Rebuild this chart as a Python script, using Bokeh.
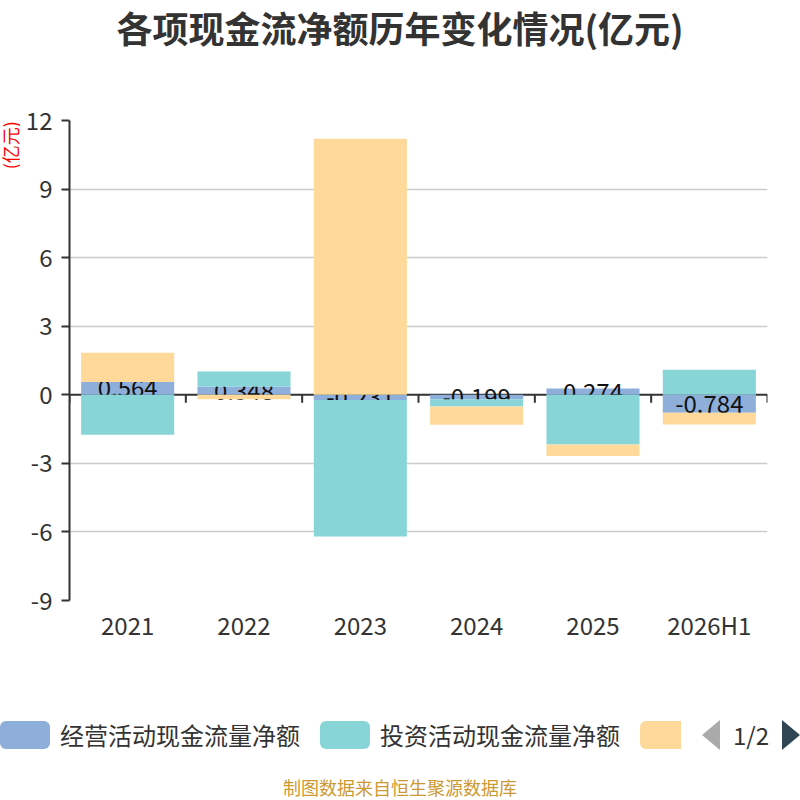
import math
from bokeh.plotting import figure
from bokeh.models import Range1d, FixedTicker, Span, Div
from bokeh.layouts import column, row
from bokeh.embed import file_html
from bokeh.resources import INLINE
from bokeh.core.properties import value

# ---------------- data ----------------
categories = ["2021", "2022", "2023", "2024", "2025", "2026H1"]
operating = [0.564, 0.348, -0.231, -0.199, 0.274, -0.784]
investing = [-1.75, 0.67, -5.97, -0.31, -2.17, 1.09]
financing = [1.28, -0.19, 11.20, -0.80, -0.51, -0.52]
series_names = ["经营活动现金流量净额", "投资活动现金流量净额", "筹资活动现金流量净额"]
y_ticks = [-9, -6, -3, 0, 3, 6, 9, 12]
title_text = "各项现金流净额历年变化情况(亿元)"
unit_text = "(亿元)"
footer_text = "制图数据来自恒生聚源数据库"
page_text = "1/2"

COLORS = ["#8FAFDB", "#88D5D8", "#FFD999"]
FONT = "Noto Sans CJK SC"

n = len(categories)
centers = [i + 0.5 for i in range(n)]

# same-sign stacking (like echarts)
pos_base = [0.0] * n
neg_base = [0.0] * n
stacks = []
for vals in (operating, investing, financing):
    bottoms, tops = [], []
    for i, v in enumerate(vals):
        if v >= 0:
            b = pos_base[i]; t = b + v; pos_base[i] = t
        else:
            b = neg_base[i]; t = b + v; neg_base[i] = t
        bottoms.append(b); tops.append(t)
    stacks.append((bottoms, tops))

# ---------------- title ----------------
title_div = Div(text=(f'<div style="width:800px;height:60px;line-height:54px;text-align:center;'
                      f'font-size:36px;font-weight:bold;color:#333333;font-family:\'{FONT}\';'
                      f'white-space:nowrap;">{title_text}</div>'),
                width=800, height=60, margin=(0, 0, 0, 0))

# ---------------- unit label strip ----------------
u = figure(width=20, height=640, x_range=Range1d(0, 20), y_range=Range1d(0, 640), title=None,
           x_axis_type=None, y_axis_type=None, output_backend="svg", toolbar_location=None,
           min_border=0, min_border_left=0, min_border_right=0, min_border_top=0, min_border_bottom=0)
u.outline_line_color = None
u.xgrid.visible = False
u.ygrid.visible = False
u.text(x=[9], y=[607], text=[unit_text], angle=math.pi / 2, text_align="center",
       text_baseline="middle", text_font=value(FONT), text_font_size="18px", text_color="#ff0000")

# ---------------- chart ----------------
p = figure(width=780, height=640, x_range=Range1d(0, n), y_range=Range1d(y_ticks[0], y_ticks[-1]),
           output_backend="svg", toolbar_location=None,
           min_border_left=49, min_border_right=33, min_border_top=60, min_border_bottom=100)
p.outline_line_color = None
p.xgrid.visible = False
p.ygrid.ticker = FixedTicker(ticks=[t for t in y_ticks if t != 0])
p.ygrid.grid_line_color = "#cccccc"
p.ygrid.grid_line_width = 1.5

# y axis
p.yaxis.ticker = FixedTicker(ticks=y_ticks)
p.yaxis.major_label_overrides = {t: str(t) for t in y_ticks}
p.yaxis.axis_line_color = "#333333"
p.yaxis.axis_line_width = 2
p.yaxis.major_tick_line_color = "#333333"
p.yaxis.major_tick_line_width = 2
p.yaxis.major_tick_out = 8
p.yaxis.major_tick_in = 0
p.yaxis.minor_tick_line_color = None
p.yaxis.major_label_standoff = 9
p.yaxis.major_label_text_font = FONT
p.yaxis.major_label_text_font_size = "24px"
p.yaxis.major_label_text_color = "#333333"

# x axis (labels at the bottom)
p.xaxis.ticker = FixedTicker(ticks=centers)
p.xaxis.major_label_overrides = {c: lab for c, lab in zip(centers, categories)}
p.xaxis.axis_line_color = None
p.xaxis.major_tick_line_color = None
p.xaxis.major_tick_out = 0
p.xaxis.major_tick_in = 0
p.xaxis.minor_tick_line_color = None
p.xaxis.major_label_standoff = 6
p.xaxis.major_label_text_font = FONT
p.xaxis.major_label_text_font_size = "24px"
p.xaxis.major_label_text_color = "#333333"

# zero line (under the bars)
p.add_layout(Span(location=0, dimension="width", line_color="#333333", line_width=2, level="underlay"))
bounds = list(range(n + 1))
p.segment(x0=bounds, y0=[0] * len(bounds), x1=bounds, y1=[-0.35] * len(bounds),
          line_color="#333333", line_width=2)

bw = 0.8
b0, t0 = stacks[0]
p.vbar(x=centers, width=bw, bottom=b0, top=t0, fill_color=COLORS[0], line_color=None)
p.text(x=centers, y=[(b + t) / 2 for b, t in zip(b0, t0)], text=[f"{v:.3f}" for v in operating],
       text_font=value(FONT), text_font_size="24px", text_align="center", text_baseline="middle",
       text_color="#111111")
for k in (1, 2):
    b, t = stacks[k]
    p.vbar(x=centers, width=bw, bottom=b, top=t, fill_color=COLORS[k], line_color=None)

# ---------------- legend + footer ----------------
def box(left, width, color, radius="6px"):
    return (f'<div style="position:absolute;left:{left}px;top:21px;width:{width}px;height:28px;'
            f'background:{color};border-radius:{radius};"></div>')

def txt(left, s, size=24, color="#333333"):
    return (f'<div style="position:absolute;left:{left}px;top:21px;height:28px;line-height:28px;'
            f'font-size:{size}px;color:{color};white-space:nowrap;font-family:\'{FONT}\';">{s}</div>')

html = ('<div style="position:relative;width:800px;height:100px;overflow:hidden;">'
        + box(0, 50, COLORS[0]) + txt(60, series_names[0])
        + box(320, 50, COLORS[1]) + txt(380, series_names[1])
        + box(640, 41, COLORS[2], "6px 0 0 6px")
        + '<div style="position:absolute;left:702px;top:20px;width:0;height:0;border-top:15px solid transparent;'
          'border-bottom:15px solid transparent;border-right:18px solid #aaaaaa;"></div>'
        + txt(733, page_text)
        + '<div style="position:absolute;left:782px;top:20px;width:0;height:0;border-top:15px solid transparent;'
          'border-bottom:15px solid transparent;border-left:18px solid #2f4554;"></div>'
        + f'<div style="position:absolute;left:0;top:77px;width:800px;text-align:center;line-height:20px;'
          f'font-size:18px;color:#CC9933;font-family:\'{FONT}\';">{footer_text}</div>'
        + '</div>')
legend = Div(text=html, width=800, height=100, margin=(0, 0, 0, 0))

layout = column(title_div, row(u, p, spacing=0), legend, spacing=0)
open("out.html", "w").write(file_html(layout, INLINE))
